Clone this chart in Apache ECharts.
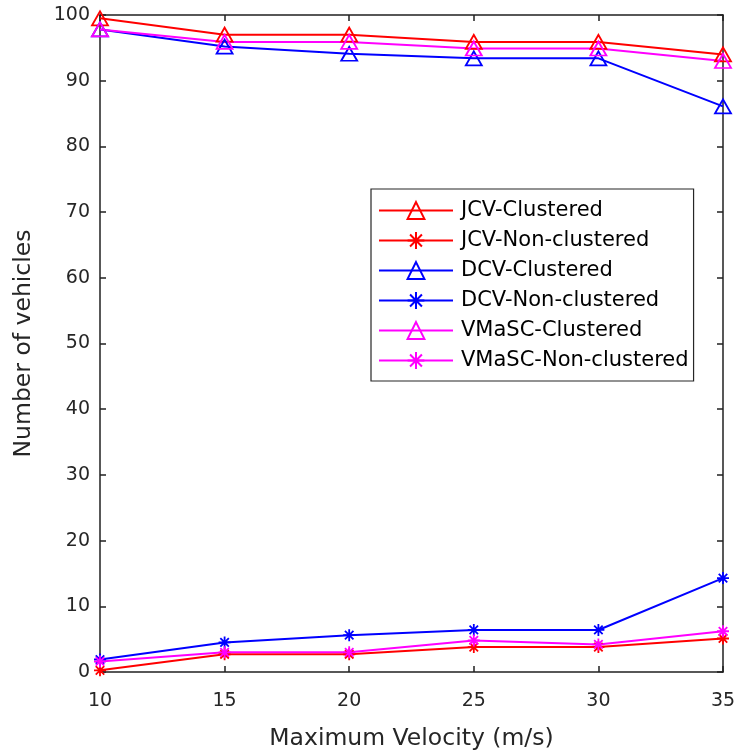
<!DOCTYPE html>
<html>
<head>
<meta charset="utf-8">
<script src="https://cdn.jsdelivr.net/npm/echarts@6/dist/echarts.min.js"></script>
<style>html,body{margin:0;padding:0;background:#fff;}#c{width:739px;height:756px;}</style>
</head>
<body>
<div id="c"></div>
<script>
const categories = [10, 15, 20, 25, 30, 35];
const xTicks = [10, 15, 20, 25, 30, 35];
const yTicks = [0, 10, 20, 30, 40, 50, 60, 70, 80, 90, 100];
const seriesNames = ['JCV-Clustered', 'JCV-Non-clustered', 'DCV-Clustered', 'DCV-Non-clustered', 'VMaSC-Clustered', 'VMaSC-Non-clustered'];
const jcvClustered = [99.5, 97.0, 97.0, 95.9, 95.9, 94.0];
const jcvNonClustered = [0.25, 2.7, 2.7, 3.8, 3.8, 5.1];
const dcvClustered = [97.8, 95.2, 94.1, 93.4, 93.4, 86.1];
const dcvNonClustered = [1.9, 4.5, 5.6, 6.4, 6.4, 14.3];
const vmascClustered = [97.8, 95.9, 95.9, 94.9, 94.9, 93.0];
const vmascNonClustered = [1.6, 3.0, 3.0, 4.8, 4.2, 6.2];

const TRI = 'path://M0,-10L11.5,10L-11.5,10Z';
const STAR = 'path://M0,-10L0,10M-10,0L10,0M-7.07,-7.07L7.07,7.07M-7.07,7.07L7.07,-7.07';

function mk(name, data, color, tri) {
  return {
    name: name,
    type: 'line',
    data: data.map((v, i) => [categories[i], v]),
    symbol: tri ? TRI : STAR,
    symbolSize: tri ? [16, 14] : [12, 12],
    showAllSymbol: true,
    clip: false,
    lineStyle: { color: color, width: 2 },
    itemStyle: { color: 'rgba(0,0,0,0)', borderColor: color, borderWidth: 1.8 },
    emphasis: { disabled: true },
    z: 3
  };
}

const chart = echarts.init(document.getElementById('c'), null, { renderer: 'canvas' });
const fontFam = '"DejaVu Sans", sans-serif';
const axisCommon = {
  axisLine: { show: true, onZero: false, lineStyle: { color: '#202020', width: 1.5 } },
  axisTick: { show: true, inside: true, length: 6, lineStyle: { color: '#202020', width: 1.5 } },
  splitLine: { show: false }
};
chart.setOption({
  animation: false,
  backgroundColor: '#fff',
  grid: { left: 100, right: 16, top: 15, bottom: 82, containLabel: false },
  xAxis: [
    Object.assign({
      type: 'value', min: 10, max: 35, interval: 5, position: 'bottom',
      name: 'Maximum Velocity (m/s)', nameLocation: 'middle', nameGap: 55,
      nameTextStyle: { fontFamily: fontFam, fontSize: 23.5, color: '#262626' },
      axisLabel: { fontFamily: fontFam, fontSize: 19, color: '#262626', margin: 20,
        formatter: v => xTicks.includes(v) ? String(v) : '' }
    }, axisCommon),
    Object.assign({
      type: 'value', min: 10, max: 35, interval: 5, position: 'top',
      axisLabel: { show: false }
    }, axisCommon)
  ],
  yAxis: [
    Object.assign({
      type: 'value', min: 0, max: 100, interval: 10, position: 'left',
      name: 'Number of vehicles', nameLocation: 'middle', nameGap: 64, nameRotate: 90,
      nameTextStyle: { fontFamily: fontFam, fontSize: 23.5, color: '#262626' },
      axisLabel: { fontFamily: fontFam, fontSize: 19, color: '#262626', margin: 10,
        formatter: v => yTicks.includes(v) ? String(v) : '' }
    }, axisCommon),
    Object.assign({
      type: 'value', min: 0, max: 100, interval: 10, position: 'right',
      axisLabel: { show: false }
    }, axisCommon)
  ],
  legend: {
    orient: 'vertical', left: 371, top: 189,
    padding: [11, 5, 10, 7],
    itemGap: 9, itemWidth: 74, itemHeight: 21,
    backgroundColor: '#fff',
    borderColor: '#262626', borderWidth: 1.2,
    textStyle: { fontFamily: fontFam, fontSize: 21, lineHeight: 21, color: '#000', padding: [0, 0, 0, 3] },
    data: seriesNames,
    selectedMode: false
  },
  series: [
    mk(seriesNames[0], jcvClustered, '#ff0000', true),
    mk(seriesNames[1], jcvNonClustered, '#ff0000', false),
    mk(seriesNames[2], dcvClustered, '#0000ff', true),
    mk(seriesNames[3], dcvNonClustered, '#0000ff', false),
    mk(seriesNames[4], vmascClustered, '#ff00ff', true),
    mk(seriesNames[5], vmascNonClustered, '#ff00ff', false)
  ]
});
</script>
</body>
</html>
